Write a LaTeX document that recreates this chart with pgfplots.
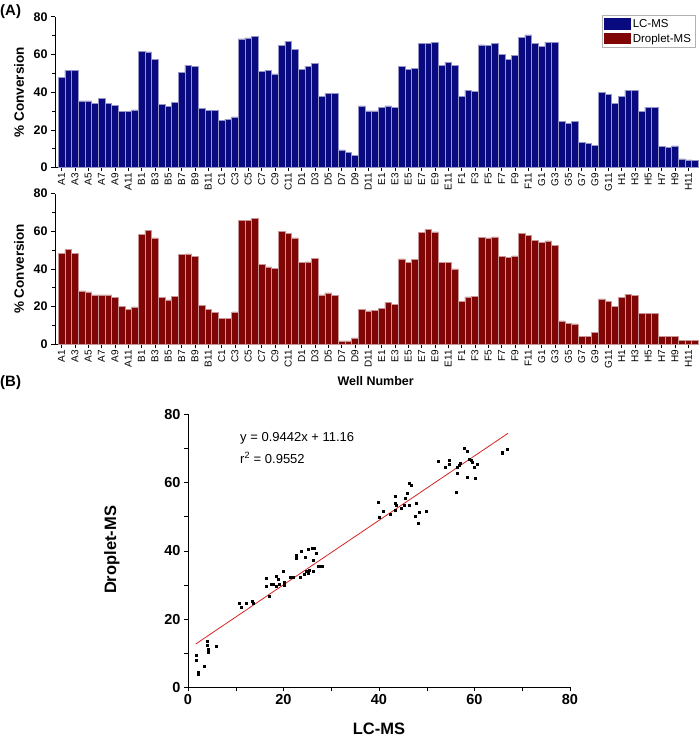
\documentclass[border=0pt]{standalone}
\usepackage{pgfplots}
\pgfplotsset{compat=1.18}
\usepackage{fontspec}
\setmainfont{Liberation Sans}
\definecolor{navybar}{RGB}{10,10,128}
\definecolor{maroonbar}{RGB}{128,6,6}
\definecolor{navyedge}{RGB}{150,150,200}
\definecolor{maroonedge}{RGB}{200,150,150}
\definecolor{fitred}{RGB}{215,35,35}
\begin{document}
\begin{tikzpicture}
\useasboundingbox (0,0) rectangle (700pt,739pt);
\pgfplotsset{
  barpanel/.style={
    scale only axis, width=644pt, height=150.8pt,
    xmin=0.02, xmax=96.6, ymin=0, ymax=80,
    axis x line=bottom, axis y line=left, axis line style={-, black, line width=0.6pt},
    ytick={0,20,40,60,80}, minor ytick={10,30,50,70},
    tick align=outside, major tick length=4pt, minor tick length=2.5pt,
    tick style={black, line width=0.5pt},
    xtick={1,3,...,95},
    xticklabels={A1,A3,A5,A7,A9,A11,B1,B3,B5,B7,B9,B11,C1,C3,C5,C7,C9,C11,D1,D3,D5,D7,D9,D11,E1,E3,E5,E7,E9,E11,F1,F3,F5,F7,F9,F11,G1,G3,G5,G7,G9,G11,H1,H3,H5,H7,H9,H11},
    xticklabel style={rotate=90, anchor=east, font=\fontsize{10}{11}\selectfont, inner sep=1.5pt},
    yticklabel style={font=\fontsize{12.5}{14}\selectfont\bfseries},
    /pgf/number format/assume math mode=true,
    ylabel={\% Conversion},
    ylabel style={at={(axis description cs:-0.056,0.5)}, anchor=center, font=\fontsize{13.5}{15}\selectfont\bfseries},
    ybar, bar width=1, bar shift=0pt,
  }
}
% ---------- Top panel: LC-MS ----------
\begin{axis}[barpanel, at={(55pt,571.5pt)}, anchor=south west,
  legend style={at={(rel axis cs:0.994,1.011)}, anchor=north east, draw=gray!60, font=\fontsize{11.5}{13}\selectfont, row sep=1pt, inner sep=2pt},
  legend cell align=left,
  legend image code/.code={\draw[#1, draw=none] (0pt,-5.5pt) rectangle (27pt,6pt);}]
\addplot[fill=navybar, draw=navyedge, line width=0.5pt] coordinates {
(1,48) (2,51.5) (3,51.5) (4,35.4) (5,35.4) (6,34.2) (7,36.8) (8,34) (9,33.1) (10,29.9) (11,29.6) (12,30.6)
(13,61.8) (14,61.4) (15,57.2) (16,33.6) (17,32.4) (18,34.5) (19,50.4) (20,54.2) (21,53.5) (22,31.2) (23,30.4) (24,30.4)
(25,25) (26,25.7) (27,26.9) (28,68.3) (29,68.8) (30,69.7) (31,51) (32,51.5) (33,49.7) (34,64.6) (35,66.9) (36,62.8)
(37,52.2) (38,53.6) (39,55.4) (40,37.7) (41,39.3) (42,39.3) (43,9.4) (44,8.1) (45,6.4) (46,32.7) (47,30.1) (48,30.1)
(49,31.9) (50,32.7) (51,32) (52,53.6) (53,51.9) (54,52.4) (55,66) (56,65.7) (57,66.4) (58,54) (59,55.9) (60,54.2)
(61,37.7) (62,40.9) (63,40.4) (64,65.1) (65,64.6) (66,65.7) (67,60.2) (68,57.2) (69,59.3) (70,69.2) (71,70.3) (72,65.7)
(73,64.2) (74,66.5) (75,66.5) (76,24.4) (77,23.5) (78,24.4) (79,13.3) (80,12.6) (81,11.7) (82,39.8) (83,38.9) (84,34.2)
(85,37.7) (86,40.9) (87,40.9) (88,29.7) (89,32) (90,32) (91,11.2) (92,10.6) (93,11.5) (94,4.6) (95,4.1) (96,3.7)
};
\addlegendentry{LC-MS}
\addlegendimage{fill=maroonbar}
\addlegendentry{Droplet-MS}
\end{axis}
% ---------- Bottom panel: Droplet-MS ----------
\begin{axis}[barpanel, at={(55pt,394.7pt)}, anchor=south west,
  xlabel={Well Number},
  xlabel style={at={(axis description cs:0.498,-0.244)}, anchor=center, font=\fontsize{12.5}{14}\selectfont\bfseries}]
\addplot[fill=maroonbar, draw=maroonedge, line width=0.5pt] coordinates {
(1,48.4) (2,50.2) (3,48.4) (4,28.3) (5,27.8) (6,26.2) (7,26.2) (8,26.2) (9,24.8) (10,20.3) (11,18.7) (12,19.8)
(13,58.3) (14,60.3) (15,56.5) (16,25) (17,23.5) (18,25.5) (19,47.6) (20,48) (21,46.5) (22,20.5) (23,18.6) (24,16.9)
(25,13.6) (26,13.6) (27,17.2) (28,65.8) (29,65.8) (30,66.9) (31,42.5) (32,41.1) (33,40.4) (34,60) (35,58.9) (36,56.5)
(37,43.4) (38,43.7) (39,45.5) (40,26.2) (41,27.3) (42,26) (43,1.8) (44,1.8) (45,3.4) (46,18.4) (47,17.7) (48,17.9)
(49,19) (50,22.1) (51,21.2) (52,45.3) (53,43.4) (54,45) (55,59.5) (56,60.9) (57,59.6) (58,43.4) (59,43.4) (60,40)
(61,22.7) (62,25.2) (63,25.3) (64,56.6) (65,56.5) (66,57) (67,46.5) (68,46) (69,46.9) (70,58.8) (71,57.7) (72,55)
(73,54) (74,54.9) (75,52.6) (76,12.4) (77,11.2) (78,10.8) (79,4.1) (80,4.1) (81,6.2) (82,24.1) (83,22.8) (84,20.2)
(85,24.8) (86,26.5) (87,25.8) (88,16.3) (89,16.3) (90,16.3) (91,4.1) (92,4.1) (93,4.1) (94,1.9) (95,1.9) (96,1.9)
};
\end{axis}
% ---------- Scatter panel ----------
\begin{axis}[scale only axis, width=382pt, height=273pt,
  at={(188pt,51.7pt)}, anchor=south west,
  xmin=0, xmax=80, ymin=0, ymax=80,
  axis x line=bottom, axis y line=left, axis line style={-, black, line width=0.6pt},
  xtick={0,20,40,60,80}, minor xtick={10,30,50,70},
  ytick={0,20,40,60,80}, minor ytick={10,30,50,70},
  tick align=outside, major tick length=4pt, minor tick length=4pt,
  tick style={black, line width=0.5pt},
  /pgf/number format/assume math mode=true,
  ticklabel style={font=\fontsize{14.5}{16}\selectfont\bfseries},
  xlabel={LC-MS}, ylabel={Droplet-MS},
  xlabel style={at={(axis description cs:0.5,-0.153)}, anchor=center, font=\fontsize{16.5}{18}\selectfont\bfseries},
  ylabel style={at={(axis description cs:-0.199,0.503)}, anchor=center, font=\fontsize{16.5}{18}\selectfont\bfseries},
  clip=false]
\addplot[only marks, mark=square*, mark size=1.0pt, black] coordinates {
(1.7,9.5) (1.7,8.0) (2.1,4.4) (2.1,3.8) (3.3,6.3) (4.0,13.4) (4.0,12.3) (4.2,11.1) (4.2,10.4) (5.9,11.9)
(10.7,24.6) (11.2,23.6) (12.2,24.6) (13.5,25.3) (13.6,24.6)
(16.3,32.1) (16.4,29.7) (17.1,26.8) (17.4,30.3) (17.8,30.2) (18.4,32.7) (18.5,29.5) (18.8,31.6) (19.2,30.2)
(19.9,34.1) (20.1,30.7) (20.2,30.0) (21.3,32.2) (22.0,32.4) (22.7,38.8) (22.7,37.8) (23.7,39.9) (23.6,32.2)
(24.4,33.2) (24.6,38.0) (24.8,34.1) (25.2,40.4) (25.3,34.4) (26.0,40.7) (26.5,40.7) (26.2,37.3) (26.3,34.1)
(26.9,39.3) (27.2,35.4) (27.6,35.4) (28.1,35.4) (25.1,33.4)
(39.8,54.1) (40.1,49.8) (40.8,51.5) (42.4,50.7) (43.3,56.1) (43.3,53.9) (43.6,53.4) (43.3,52.0) (44.7,52.4)
(45.2,53.4) (45.5,55.4) (45.9,57.0) (46.3,53.4) (46.4,59.8) (46.8,59.1) (47.5,50.2) (47.8,53.9) (48.2,48.0)
(48.4,51.3) (49.9,51.5)
(52.5,66.4) (53.8,64.4) (54.7,66.6) (54.8,65.4) (56.4,64.6) (56.4,62.7) (56.2,57.1) (56.8,65.1) (57.1,65.6)
(57.8,70.2) (58.4,61.6) (58.5,69.2) (58.9,66.8) (59.4,66.6) (59.6,66.1) (59.9,64.4) (60.1,61.4) (60.6,65.4)
(65.8,69.0) (65.8,68.6) (66.9,69.9)
};
\addplot[fitred, line width=0.8pt] coordinates {(1.6,12.67) (67,74.42)};
\node[anchor=west, font=\fontsize{13}{14}\selectfont] at (axis cs:10.2,73) {y = 0.9442x + 11.16};
\node[anchor=west, font=\fontsize{13}{14}\selectfont] at (axis cs:10.2,67.2) {r\textsuperscript{2} = 0.9552};
\end{axis}
\node[anchor=west, font=\fontsize{15}{17}\selectfont\bfseries, inner sep=0pt] at (0pt,727pt) {(A)};
\node[anchor=west, font=\fontsize{15}{17}\selectfont\bfseries, inner sep=0pt] at (0pt,356pt) {(B)};
\end{tikzpicture}
\end{document}
